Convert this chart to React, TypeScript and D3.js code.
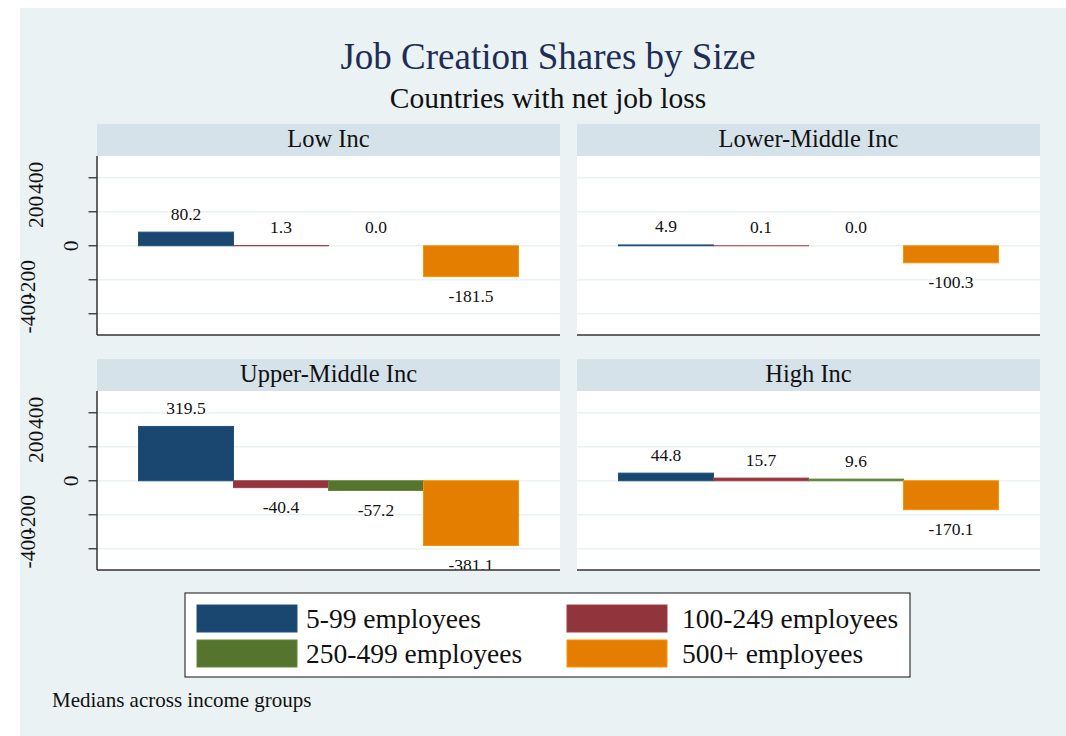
import React from "react";
import * as d3 from "d3";

const categories = ["5-99 employees", "100-249 employees", "250-499 employees", "500+ employees"];
const panelNames = ["Low Inc", "Lower-Middle Inc", "Upper-Middle Inc", "High Inc"];
const lowInc = [80.2, 1.3, 0.0, -181.5];
const lowerMiddleInc = [4.9, 0.1, 0.0, -100.3];
const upperMiddleInc = [319.5, -40.4, -57.2, -381.1];
const highInc = [44.8, 15.7, 9.6, -170.1];
const yTicks = [-400, -200, 0, 200, 400];
const barColors = ["#1a476f", "#90353b", "#55752f", "#e37e00"];

const panelValues = [lowInc, lowerMiddleInc, upperMiddleInc, highInc];

const FONT = "'Liberation Serif', 'Times New Roman', Times, serif";
const BG = "rgb(234,242,243)";
const STRIP = "rgb(214,226,233)";
const GRID = "rgb(234,242,243)";

const colX = [97, 577];
const panelW = 463;
const rowTop = [124, 359];
const stripH = 32;
const plotH = 179;

const fmt = (v: number) => d3.format(".1f")(v).replace("\u2212", "-");

function Panel({ name, values, col, row }: { name: string; values: number[]; col: number; row: number }) {
  const x0 = colX[col];
  const top = rowTop[row];
  const plotTop = top + stripH;
  const plotBottom = plotTop + plotH;
  const y = d3.scaleLinear().domain([-525, 528]).range([plotBottom, plotTop]);
  const x = d3
    .scaleBand<string>()
    .domain(categories)
    .range([x0, x0 + panelW])
    .paddingInner(0)
    .paddingOuter(0.437);
  const clipId = `clip-${col}-${row}`;
  const tickLabelX = (v: number) => (v === 0 ? 78 : v > 0 ? 43 : 35);
  return (
    <g>
      <defs>
        <clipPath id={clipId}>
          <rect x={x0} y={plotTop} width={panelW} height={plotH} />
        </clipPath>
      </defs>
      <rect x={x0} y={top} width={panelW} height={stripH} fill={STRIP} />
      <text
        x={x0 + panelW / 2}
        y={top + 22.7}
        textAnchor="middle"
        fontFamily={FONT}
        fontSize={24.5}
        fill="#111"
      >
        {name}
      </text>
      <rect x={x0} y={plotTop} width={panelW} height={plotH} fill="#fff" />
      {yTicks.map((t) => (
        <line key={t} x1={x0} x2={x0 + panelW} y1={y(t)} y2={y(t)} stroke={GRID} strokeWidth={1.6} />
      ))}
      <g clipPath={`url(#${clipId})`}>
        {values.map((v, i) =>
          v === 0 ? null : (
            <rect
              key={i}
              x={x(categories[i])!}
              y={Math.min(y(v), y(0))}
              width={x.bandwidth()}
              height={Math.abs(y(v) - y(0))}
              fill={barColors[i]}
              stroke={d3.color(barColors[i])!.brighter(0.4).formatHex()}
              strokeWidth={1}
            />
          )
        )}
        {values.map((v, i) => (
          <text
            key={"l" + i}
            x={x(categories[i])! + x.bandwidth() / 2}
            y={v >= 0 ? y(v) - 12.5 : y(v) + 25.5}
            textAnchor="middle"
            fontFamily={FONT}
            fontSize={17.5}
            fill="#111"
          >
            {fmt(v)}
          </text>
        ))}
      </g>
      <line x1={x0} x2={x0 + panelW} y1={plotBottom} y2={plotBottom} stroke="#333" strokeWidth={1.5} />
      {col === 0 && (
        <g>
          <line x1={x0} x2={x0} y1={plotTop} y2={plotBottom} stroke="#333" strokeWidth={1.5} />
          {yTicks.map((t) => (
            <g key={t}>
              <line x1={x0 - 8.5} x2={x0} y1={y(t)} y2={y(t)} stroke="#333" strokeWidth={1.3} />
              <text
                transform={`translate(${tickLabelX(t)},${y(t)}) rotate(-90)`}
                textAnchor="middle"
                fontFamily={FONT}
                fontSize={21.5}
                fill="#111"
              >
                {String(t)}
              </text>
            </g>
          ))}
        </g>
      )}
    </g>
  );
}

export default function App() {
  const legendSwX = [197, 567];
  const legendTxtX = [306, 682];
  const legendRowY = [605, 640];
  return (
    <svg
      width={1066}
      height={736}
      style={{ position: "fixed", left: 0, top: 0, display: "block" }}
    >
      <rect x={0} y={0} width={1066} height={736} fill="#fff" />
      <rect x={20} y={8} width={1046} height={728} fill={BG} />
      <text x={548} y={69} textAnchor="middle" fontFamily={FONT} fontSize={37} fill="rgb(30,45,85)">
        Job Creation Shares by Size
      </text>
      <text x={548} y={108} textAnchor="middle" fontFamily={FONT} fontSize={29.5} fill="#111">
        Countries with net job loss
      </text>
      {panelNames.map((n, i) => (
        <Panel key={n} name={n} values={panelValues[i]} col={i % 2} row={Math.floor(i / 2)} />
      ))}
      <rect x={185} y={593} width={725} height={84} fill="#fff" stroke="#111" strokeWidth={1} />
      {categories.map((c, i) => {
        const col = i % 2;
        const row = Math.floor(i / 2);
        return (
          <g key={c}>
            <rect
              x={legendSwX[col]}
              y={legendRowY[row]}
              width={100}
              height={27}
              fill={barColors[i]}
              stroke={d3.color(barColors[i])!.brighter(0.4).formatHex()}
              strokeWidth={1}
            />
            <text
              x={legendTxtX[col]}
              y={legendRowY[row] + 23}
              fontFamily={FONT}
              fontSize={27.5}
              fill="#111"
            >
              {c}
            </text>
          </g>
        );
      })}
      <text x={52} y={706.5} fontFamily={FONT} fontSize={21} fill="#111">
        Medians across income groups
      </text>
    </svg>
  );
}
